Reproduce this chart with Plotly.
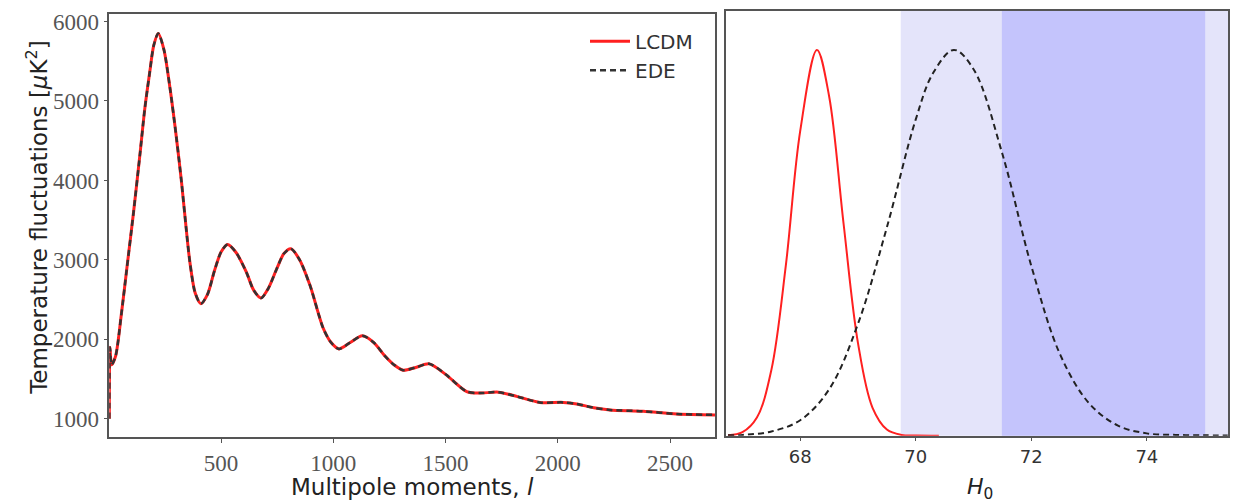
import plotly.graph_objects as go

# ---- Left panel: CMB temperature power spectrum ----
ell = [2, 5, 12, 30, 55, 80, 110, 139, 160, 183, 200, 220, 245, 272, 300, 324, 345,
       361, 385, 410, 440, 470, 500, 529, 565, 612, 645, 678, 710, 748, 780, 811,
       850, 896, 955, 990, 1025, 1075, 1129, 1180, 1230, 1270, 1311, 1370, 1427,
       1500, 1594, 1653, 1735, 1820, 1920, 2024, 2084, 2160, 2232, 2380, 2529, 2700]
cl_lcdm = [1000, 1900, 1680, 1790, 2300, 2890, 3600, 4340, 4900, 5380, 5700, 5850,
           5650, 5170, 4560, 3970, 3380, 2970, 2580, 2450, 2570, 2860, 3100, 3195,
           3100, 2850, 2620, 2520, 2640, 2890, 3080, 3140, 3000, 2680, 2140, 1960,
           1880, 1960, 2045, 1960, 1790, 1680, 1612, 1650, 1692, 1560, 1344, 1324,
           1336, 1280, 1207, 1207, 1187, 1140, 1112, 1095, 1062, 1050]
cl_ede = list(cl_lcdm)

left_xticks = [500, 1000, 1500, 2000, 2500]
left_yticks = [1000, 2000, 3000, 4000, 5000, 6000]

# ---- Right panel: H0 posteriors ----
h0_lcdm = [66.75, 67.0, 67.25, 67.5, 67.75, 68.0, 68.29, 68.5, 68.75, 69.0, 69.25,
           69.5, 69.75, 70.0, 70.4]
p_lcdm = [0.001, 0.009, 0.047, 0.17, 0.44, 0.79, 1.0, 0.88, 0.55, 0.24, 0.073,
          0.016, 0.002, 0.0003, 0.0]
h0_ede = [66.75, 67.0, 67.5, 68.0, 68.5, 69.0, 69.5, 70.0, 70.3, 70.66, 71.0, 71.5,
          72.0, 72.5, 73.0, 73.5, 74.0, 74.5, 75.0, 75.4]
p_ede = [0.001, 0.002, 0.011, 0.040, 0.12, 0.29, 0.54, 0.82, 0.94, 1.0, 0.95, 0.73,
         0.44, 0.21, 0.084, 0.026, 0.006, 0.002, 0.001, 0.0005]
right_xticks = [68, 70, 72, 74]
band_light = [69.74, 76.0]
band_dark = [71.49, 75.01]

fig = go.Figure()
fig.add_trace(go.Scatter(x=ell, y=cl_lcdm, mode="lines", name="LCDM",
                         line=dict(color="#ff2020", width=3, shape="spline", smoothing=0.8),
                         xaxis="x", yaxis="y"))
fig.add_trace(go.Scatter(x=ell, y=cl_ede, mode="lines", name="EDE",
                         line=dict(color="#333333", width=2.5, dash="6px,4px", shape="spline", smoothing=0.8),
                         xaxis="x", yaxis="y"))
fig.add_trace(go.Scatter(x=h0_lcdm, y=p_lcdm, mode="lines", showlegend=False,
                         line=dict(color="#ff2020", width=2, shape="spline", smoothing=1.0),
                         xaxis="x2", yaxis="y2"))
fig.add_trace(go.Scatter(x=h0_ede, y=p_ede, mode="lines", showlegend=False,
                         line=dict(color="#222222", width=2, dash="6px,4px", shape="spline", smoothing=1.0),
                         xaxis="x2", yaxis="y2"))

W, H = 1238, 504
lx0, lx1, ly0, ly1 = 109.3, 715.0, 9.3, 436.7
rx0, rx1, ry0, ry1 = 725.7, 1228.3, 6.0, 435.0

axis_common = dict(showline=True, linecolor="#555555", linewidth=1.5, mirror=True,
                   showgrid=False, zeroline=False, ticks="outside", ticklen=4,
                   tickcolor="#555555", tickwidth=1)

fig.update_layout(
    width=W, height=H, margin=dict(l=0, r=0, t=0, b=0),
    paper_bgcolor="white", plot_bgcolor="white",
    xaxis=dict(domain=[lx0 / W, lx1 / W], range=[2, 2700], tickvals=left_xticks,
               tickfont=dict(family="Liberation Serif", size=23, color="#555555"),
               anchor="y", **axis_common),
    yaxis=dict(domain=[1 - ly1 / H, 1 - ly0 / H], range=[767, 6092], tickvals=left_yticks,
               tickfont=dict(family="Liberation Serif", size=23, color="#555555"),
               anchor="x", **axis_common),
    xaxis2=dict(domain=[rx0 / W, rx1 / W], range=[66.71, 75.41], tickvals=right_xticks,
                tickfont=dict(family="DejaVu Sans", size=18, color="#333333"),
                anchor="y2", **axis_common),
    yaxis2=dict(domain=[1 - ry1 / H, 1 - ry0 / H], range=[0, 1.101], showticklabels=False,
                anchor="x2", **{**axis_common, "ticks": ""}),
    legend=dict(x=585 / W, y=1 - 17 / H, xanchor="left", yanchor="top",
                bgcolor="rgba(0,0,0,0)", font=dict(family="DejaVu Sans", size=20, color="#333333"),
                tracegroupgap=0, itemwidth=40),
    shapes=[
        dict(type="rect", xref="x2", yref="y2 domain", x0=band_light[0], x1=band_light[1],
             y0=0, y1=1, fillcolor="#e4e4fa", line=dict(width=0), layer="below"),
        dict(type="rect", xref="x2", yref="y2 domain", x0=band_dark[0], x1=band_dark[1],
             y0=0, y1=1, fillcolor="#c4c4fc", line=dict(width=0), layer="below"),
    ],
    annotations=[
        dict(text="Temperature fluctuations [<i>μ</i>K<sup>2</sup>]", xref="paper", yref="paper",
             x=37 / W, y=1 - 215 / H, textangle=-90, showarrow=False,
             xanchor="center", yanchor="middle",
             font=dict(family="DejaVu Sans", size=23, color="#222222")),
        dict(text="Multipole moments, <i>l</i>", xref="paper", yref="paper",
             x=412 / W, y=1 - 487 / H, showarrow=False, xanchor="center", yanchor="middle",
             font=dict(family="DejaVu Sans", size=23, color="#222222")),
        dict(text="<i>H</i><sub>0</sub>", xref="paper", yref="paper",
             x=980 / W, y=1 - 488 / H, showarrow=False, xanchor="center", yanchor="middle",
             font=dict(family="DejaVu Sans", size=22, color="#222222")),
    ],
)

fig.write_html("out.html")
